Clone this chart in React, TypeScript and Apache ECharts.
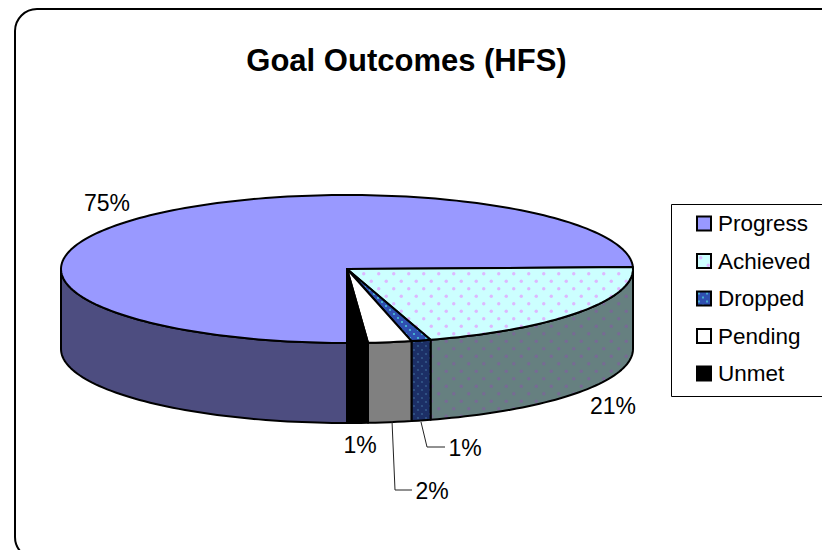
import React, { useEffect, useRef } from "react";
import * as echarts from "echarts";

const categories = ["Progress", "Achieved", "Dropped", "Pending", "Unmet"];
const shares = [74.58, 20.7, 1.1, 2.45, 1.17];
const topColors = ["#9999FF", "#CCFFFF", "#2F4FB0", "#FFFFFF", "#000000"];
const wallColors = ["#4D4D80", "#668080", "#1C2F66", "#808080", "#000000"];
const dotColors = [null, "#DDB8FF", "#4CC4D8", null, null];
const wallDotColors = [null, "#786A94", "#34588A", null, null];
const dotTiles = [0, 15, 8, 0, 0];

// Drum geometry: a flattened disc seen from above, with a visible front wall.
const CX = 347;
const CY = 269;
const RX = 286;
const RY = 74;
const DEPTH = 80;
const FIRST_ANGLE = 90;

// Staggered dot fill, the office-style "dotted" pattern.
function dotPattern(bg: string, dot: string | null, tile: number) {
  if (!dot) return bg;
  const canvas = document.createElement("canvas");
  canvas.width = tile;
  canvas.height = tile;
  const ctx = canvas.getContext("2d")!;
  ctx.fillStyle = bg;
  ctx.fillRect(0, 0, tile, tile);
  ctx.fillStyle = dot;
  const r = tile > 10 ? 1.7 : 1.1;
  const q = tile / 4;
  for (const [x, y] of [[q, q], [q + tile / 2, q + tile / 2]]) {
    ctx.beginPath();
    ctx.arc(x, y, r, 0, Math.PI * 2);
    ctx.fill();
  }
  return { image: canvas.toDataURL(), repeat: "repeat", imageWidth: tile, imageHeight: tile };
}

const pt = (deg: number, dy = 0): number[] => {
  const a = (deg * Math.PI) / 180;
  return [CX + RX * Math.cos(a), CY + RY * Math.sin(a) + dy];
};

function arc(from: number, to: number, dy = 0): number[][] {
  const n = Math.max(2, Math.ceil((to - from) / 1.5));
  const out: number[][] = [];
  for (let i = 0; i <= n; i++) out.push(pt(from + ((to - from) * i) / n, dy));
  return out;
}

function sliceSpan(index: number): [number, number] {
  const total = shares.reduce((a, b) => a + b, 0);
  const before = shares.slice(0, index).reduce((a, b) => a + b, 0);
  const from = FIRST_ANGLE + (before / total) * 360;
  return [from, from + (shares[index] / total) * 360];
}

function renderSlice(index: number) {
  const [from, to] = sliceSpan(index);
  const top = dotPattern(topColors[index], dotColors[index], dotTiles[index]);
  const wall = dotPattern(wallColors[index], wallDotColors[index], dotTiles[index]);
  const children: any[] = [];
  // The front wall only exists between 0 and 180 degrees, in both turns of the circle.
  for (const shift of [0, 360]) {
    const a = Math.max(from, shift);
    const b = Math.min(to, shift + 180);
    if (b > a) {
      const upper = arc(a, b);
      const lower = arc(a, b, DEPTH).reverse();
      children.push({
        type: "polygon",
        shape: { points: upper.concat(lower) },
        style: { fill: wall, stroke: "#000", lineWidth: 2, lineJoin: "round" },
      });
    }
  }
  children.push({
    type: "polygon",
    shape: { points: [[CX, CY], ...arc(from, to)] },
    style: { fill: top, stroke: "#000", lineWidth: 2, lineJoin: "round" },
  });
  return { type: "group", children };
}

const pct = (i: number) => `${Math.round(shares[i])}%`;

export default function App() {
  const ref = useRef<HTMLDivElement>(null);
  useEffect(() => {
    const chart = echarts.init(ref.current!, undefined, { renderer: "svg" });
    const font = '"Liberation Sans", Arial, sans-serif';
    const valueLabel = (i: number, x: number, y: number) => ({
      type: "text",
      x,
      y,
      z: 10,
      style: { text: pct(i), font: `23px ${font}`, fill: "#000", align: "center", verticalAlign: "middle" },
    });
    const leader = (points: number[][]) => ({
      type: "polyline",
      z: 10,
      shape: { points },
      style: { fill: "none", stroke: "#222", lineWidth: 1 },
    });
    chart.setOption({
      animation: false,
      backgroundColor: "#fff",
      title: {
        text: "Goal Outcomes (HFS)",
        left: 401.5,
        top: 39.5,
        textAlign: "center",
        textStyle: { fontFamily: font, fontSize: 31, fontWeight: "bold", color: "#000" },
      },
      legend: {
        orient: "vertical",
        left: 696,
        top: 212,
        padding: 0,
        itemWidth: 14,
        itemHeight: 14,
        itemGap: 14.5,
        data: categories,
        selectedMode: false,
        icon: "rect",
        textStyle: { fontFamily: font, fontSize: 22.5, color: "#000", lineHeight: 22, padding: [0, 0, 0, 2] },
      },
      series: categories.map((name, i) => ({
        type: "custom",
        name,
        coordinateSystem: "none",
        silent: true,
        data: [shares[i]],
        itemStyle: {
          color: dotPattern(topColors[i], dotColors[i], dotTiles[i]),
          borderColor: "#000",
          borderWidth: 1.5,
        },
        renderItem: () => renderSlice(i),
      })),
      graphic: [
        {
          type: "rect",
          z: -1,
          shape: { x: 15, y: 9, width: 840, height: 550, r: 22 },
          style: { fill: "none", stroke: "#000", lineWidth: 2 },
        },
        {
          type: "rect",
          z: -1,
          shape: { x: 671.5, y: 204.5, width: 180, height: 192 },
          style: { fill: "#fff", stroke: "#000", lineWidth: 1 },
        },
        valueLabel(0, 107, 203),
        valueLabel(1, 613, 406),
        valueLabel(4, 360, 445),
        valueLabel(3, 432, 491),
        valueLabel(2, 465, 448),
        leader([[392, 421], [395, 490], [412, 490]]),
        leader([[421, 422], [427, 447], [445, 447]]),
      ],
    });
    return () => chart.dispose();
  }, []);
  return <div ref={ref} style={{ position: "fixed", left: 0, top: 0, width: 822, height: 550 }} />;
}
